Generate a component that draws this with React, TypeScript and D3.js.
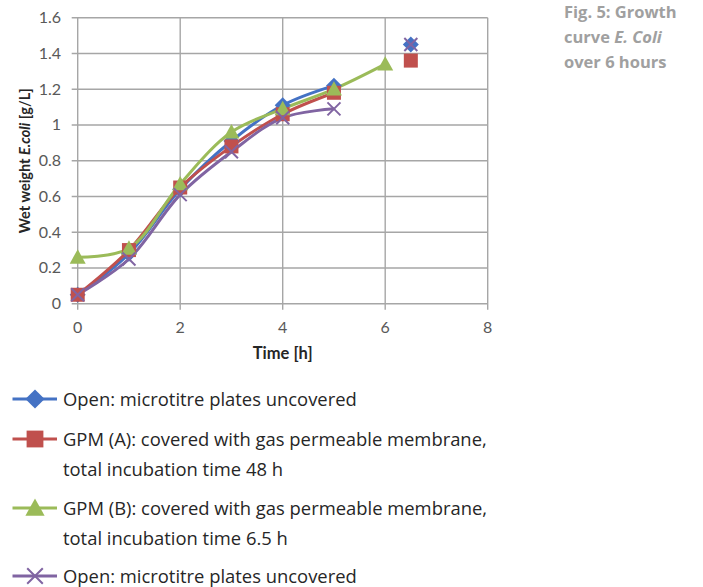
import React from "react";
import * as d3 from "d3";

const timeMain = [0, 1, 2, 3, 4, 5];
const timeB = [0, 1, 2, 3, 4, 5, 6];
const openValues = [0.05, 0.28, 0.64, 0.91, 1.11, 1.22];
const gpmAValues = [0.05, 0.30, 0.65, 0.88, 1.06, 1.18];
const gpmBValues = [0.26, 0.31, 0.67, 0.96, 1.09, 1.20, 1.34];
const open2Values = [0.05, 0.25, 0.61, 0.85, 1.04, 1.09];
const extraTime = 6.5;
const openExtra = 1.45;
const gpmAExtra = 1.36;
const open2Extra = 1.45;
const xTicks = [0, 2, 4, 6, 8];
const yTicks = [0, 0.2, 0.4, 0.6, 0.8, 1, 1.2, 1.4, 1.6];

const W = 703;
const H = 587;
const x = d3.scaleLinear().domain([0, 8]).range([77.7, 487.7]);
const y = d3.scaleLinear().domain([0, 1.6]).range([303.7, 17.7]);

const COLORS = { blue: "#4472C4", red: "#C0504D", green: "#9BBB59", purple: "#8064A2" };

type Pt = [number, number];
const line = d3
  .line<Pt>()
  .x((d) => x(d[0]))
  .y((d) => y(d[1]))
  .curve(d3.curveCatmullRom.alpha(0.5));

function zip(t: number[], v: number[]): Pt[] {
  return t.map((tt, i) => [tt, v[i]]);
}

function Marker({ kind, cx, cy, color, s = 1 }: { kind: string; cx: number; cy: number; color: string; s?: number }) {
  if (kind === "diamond") {
    const r = 8 * s;
    return <path d={`M${cx},${cy - r}L${cx + r},${cy}L${cx},${cy + r}L${cx - r},${cy}Z`} fill={color} />;
  }
  if (kind === "square") {
    const r = 7 * s;
    return <rect x={cx - r} y={cy - r} width={2 * r} height={2 * r} fill={color} />;
  }
  if (kind === "triangle") {
    const r = 8 * s;
    return <path d={`M${cx},${cy - r}L${cx + r},${cy + r * 0.8}L${cx - r},${cy + r * 0.8}Z`} fill={color} />;
  }
  const r = 6.5 * s;
  return (
    <g stroke={color} strokeWidth={2}>
      <line x1={cx - r} y1={cy - r} x2={cx + r} y2={cy + r} />
      <line x1={cx - r} y1={cy + r} x2={cx + r} y2={cy - r} />
    </g>
  );
}

const series = [
  { key: "open", color: COLORS.blue, kind: "diamond", pts: zip(timeMain, openValues), extra: [extraTime, openExtra] as Pt },
  { key: "gpmA", color: COLORS.red, kind: "square", pts: zip(timeMain, gpmAValues), extra: [extraTime, gpmAExtra] as Pt },
  { key: "gpmB", color: COLORS.green, kind: "triangle", pts: zip(timeB, gpmBValues), extra: null },
  { key: "open2", color: COLORS.purple, kind: "x", pts: zip(timeMain, open2Values), extra: [extraTime, open2Extra] as Pt },
];

const legendRows = [
  { color: COLORS.blue, kind: "diamond", lines: ["Open: microtitre plates uncovered"], y: 399 },
  { color: COLORS.red, kind: "square", lines: ["GPM (A): covered with gas permeable membrane,", "total incubation time 48 h"], y: 439 },
  { color: COLORS.green, kind: "triangle", lines: ["GPM (B): covered with gas permeable membrane,", "total incubation time 6.5 h"], y: 508 },
  { color: COLORS.purple, kind: "x", lines: ["Open: microtitre plates uncovered"], y: 576 },
];

export default function App() {
  const gridColor = "#A6A6A6";
  const labelFont = "Lato, 'Open Sans', sans-serif";
  return (
    <svg width={W} height={H} style={{ position: "absolute", left: 0, top: 0, background: "#fff" }}>
      <rect width={W} height={H} fill="#fff" />
      {/* gridlines */}
      {yTicks.map((t) => (
        <line key={"gy" + t} x1={x(0) - 6} x2={x(8)} y1={y(t)} y2={y(t)} stroke={gridColor} strokeWidth={1.4} />
      ))}
      {xTicks.map((t) => (
        <line key={"gx" + t} x1={x(t)} x2={x(t)} y1={y(1.6)} y2={y(0) + 6} stroke={gridColor} strokeWidth={1.4} />
      ))}
      {/* tick labels */}
      {yTicks.map((t) => (
        <text key={"ty" + t} x={61} y={y(t) + 5.5} textAnchor="end" fontSize={16} fill="#595959" fontFamily={labelFont}>
          {d3.format("~g")(t)}
        </text>
      ))}
      {xTicks.map((t) => (
        <text key={"tx" + t} x={x(t)} y={333} textAnchor="middle" fontSize={16} fill="#595959" fontFamily={labelFont}>
          {t}
        </text>
      ))}
      <text x={(x(0) + x(8)) / 2} y={359} textAnchor="middle" fontSize={16.5} fontWeight="bold" fill="#262626" fontFamily={labelFont}>
        Time [h]
      </text>
      <text
        transform={`translate(30,${(y(0) + y(1.6)) / 2}) rotate(-90)`}
        textAnchor="middle"
        fontSize={14.5}
        fontWeight="bold"
        fill="#262626"
        fontFamily={labelFont}
      >
        Wet weight <tspan fontStyle="italic">E.coli</tspan> [g/L]
      </text>
      {/* lines */}
      {series.map((s) => (
        <path key={"l" + s.key} d={line(s.pts) || ""} fill="none" stroke={s.color} strokeWidth={3} strokeLinejoin="round" />
      ))}
      {series.map((s) => (
        <g key={"m" + s.key}>
          {s.pts.map((p, i) => (
            <Marker key={i} kind={s.kind} cx={x(p[0])} cy={y(p[1])} color={s.color} />
          ))}
          {s.extra && <Marker kind={s.kind} cx={x(s.extra[0])} cy={y(s.extra[1])} color={s.color} />}
        </g>
      ))}
      {/* title */}
      <g fontFamily="'Open Sans', sans-serif" fontWeight="bold" fontSize={16.5} fill="#A0A0A0">
        <text x={564} y={18}>Fig. 5: Growth</text>
        <text x={564} y={43}>
          curve <tspan fontStyle="italic">E. Coli</tspan>
        </text>
        <text x={564} y={68}>over 6 hours</text>
      </g>
      {/* legend */}
      {legendRows.map((r, i) => (
        <g key={"lg" + i}>
          <line x1={12.5} x2={57} y1={r.y} y2={r.y} stroke={r.color} strokeWidth={3} />
          <Marker kind={r.kind} cx={35} cy={r.y} color={r.color} s={1.2} />
          {r.lines.map((t, j) => (
            <text key={j} x={63} y={r.y + 7 + j * 30} fontSize={18.4} fill="#262626" fontFamily="'Open Sans', sans-serif">
              {t}
            </text>
          ))}
        </g>
      ))}
    </svg>
  );
}
